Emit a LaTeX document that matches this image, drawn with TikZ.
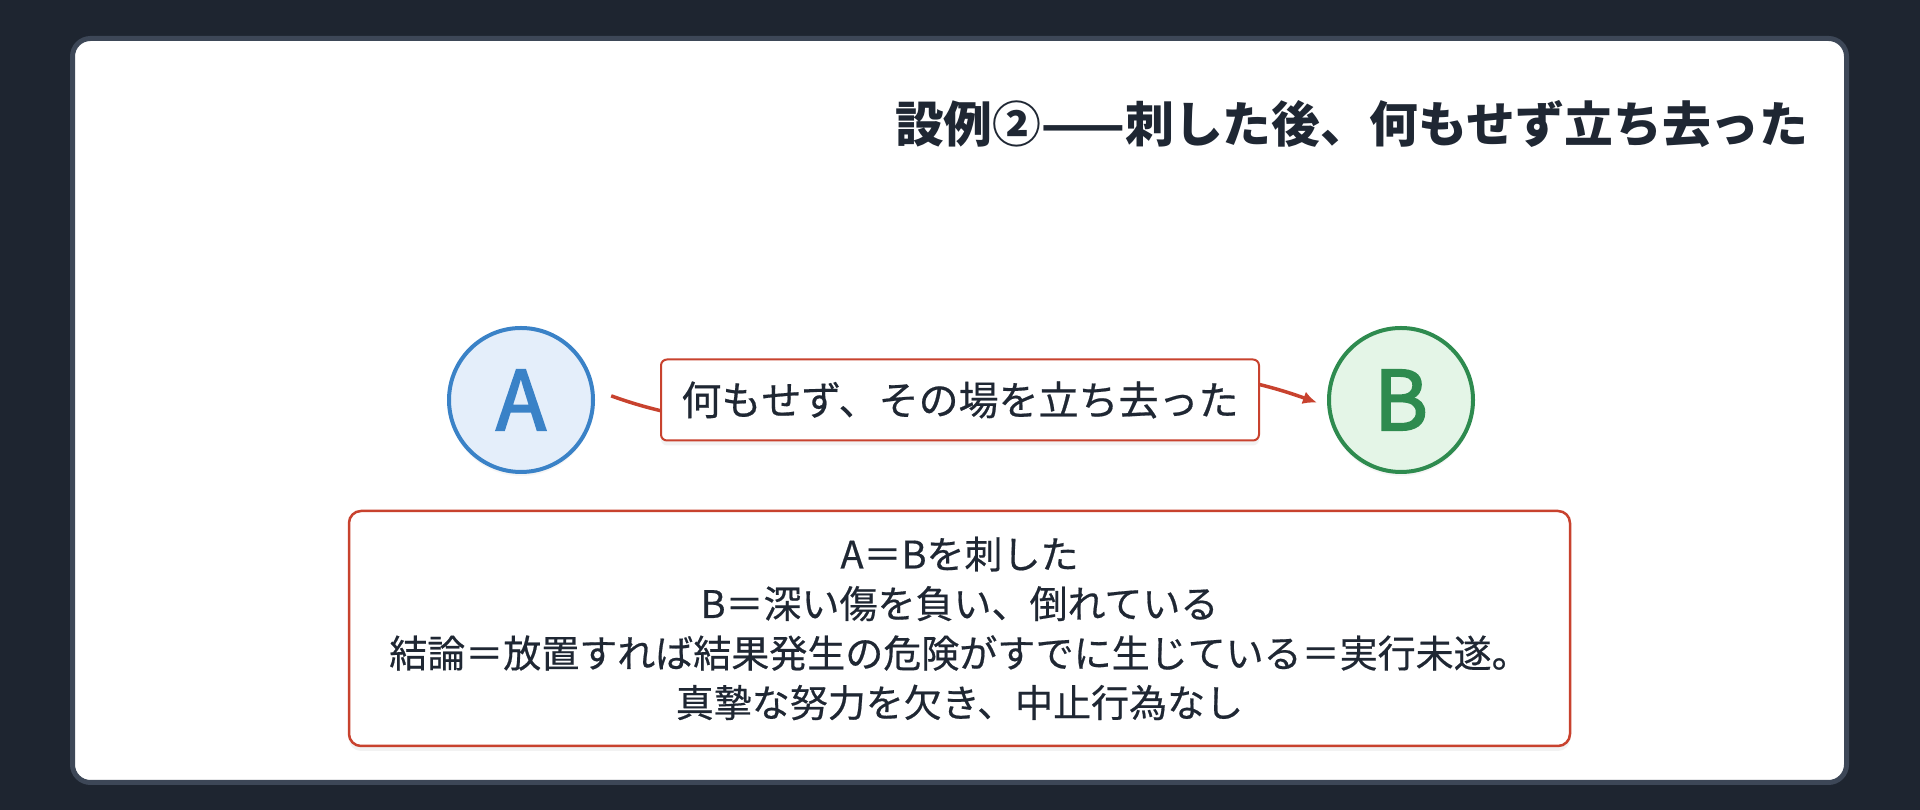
\documentclass[tikz,border=0pt]{standalone}
\usepackage{fontspec}
\setmainfont{Noto Sans CJK JP}
\newfontfamily\jpmid{Noto Sans CJK JP}[FakeBold=0.5]
\newfontfamily\jpletter{Noto Sans CJK JP}[FakeBold=2.5]
\usetikzlibrary{arrows.meta, shadows}

\definecolor{bgdark}{HTML}{1E2530}
\definecolor{cardline}{HTML}{3D4757}
\definecolor{inkdark}{HTML}{1F2733}
\definecolor{blueline}{HTML}{3A82C7}
\definecolor{bluefill}{HTML}{E4EEFA}
\definecolor{greenline}{HTML}{2E8B4F}
\definecolor{greenfill}{HTML}{E4F5E7}
\definecolor{redline}{HTML}{C8422E}

\begin{document}
\begin{tikzpicture}[>={Latex[length=14pt,width=13pt]}, x=1pt, y=1pt,
  person/.style={circle, minimum size=144pt, line width=4pt, font=\fontsize{82}{82}\selectfont\jpletter,
    drop shadow={shadow xshift=0pt, shadow yshift=-4pt, opacity=0.08}},
  redbox/.style={draw=redline, fill=white, text=inkdark, rectangle,
    drop shadow={shadow xshift=0pt, shadow yshift=-5pt, opacity=0.1}}]

\fill[bgdark] (0, 0) rectangle (1920, 810); %background
\draw[cardline, fill=white, line width=5pt, rounded corners=18pt] (72.5, 27.5) rectangle (1846.5, 771.5); %card

\node[anchor=east, text=inkdark, font=\fontsize{48.8}{48.8}\selectfont\bfseries] (title) at (1812, 686) {設例②——刺した後、何もせず立ち去った};

\node[person, draw=blueline, fill=bluefill, text=blueline] (A) at (521, 410) {A};
\node[person, draw=greenline, fill=greenfill, text=greenline] (B) at (1401, 410) {B};

\draw[redline, line width=3.5pt, ->, shorten <=18pt, shorten >=11pt] (A.8) to[out=-20, in=160] (B.185); %A to B
\node[redbox, minimum width=598pt, minimum height=81pt, line width=2pt, rounded corners=6pt,
  font=\fontsize{40}{40}\selectfont\jpmid] (leave) at (960, 410) {何もせず、その場を立ち去った};

\node[redbox, minimum width=1221pt, minimum height=235pt, line width=2.5pt, rounded corners=12pt,
  align=center, font=\fontsize{38}{49.5}\selectfont\jpmid] (summary) at (959.5, 181.5)
  {A＝Bを刺した\\B＝深い傷を負い、倒れている\\結論＝放置すれば結果発生の危険がすでに生じている＝実行未遂。\\真摯な努力を欠き、中止行為なし};

\end{tikzpicture}
\end{document}
